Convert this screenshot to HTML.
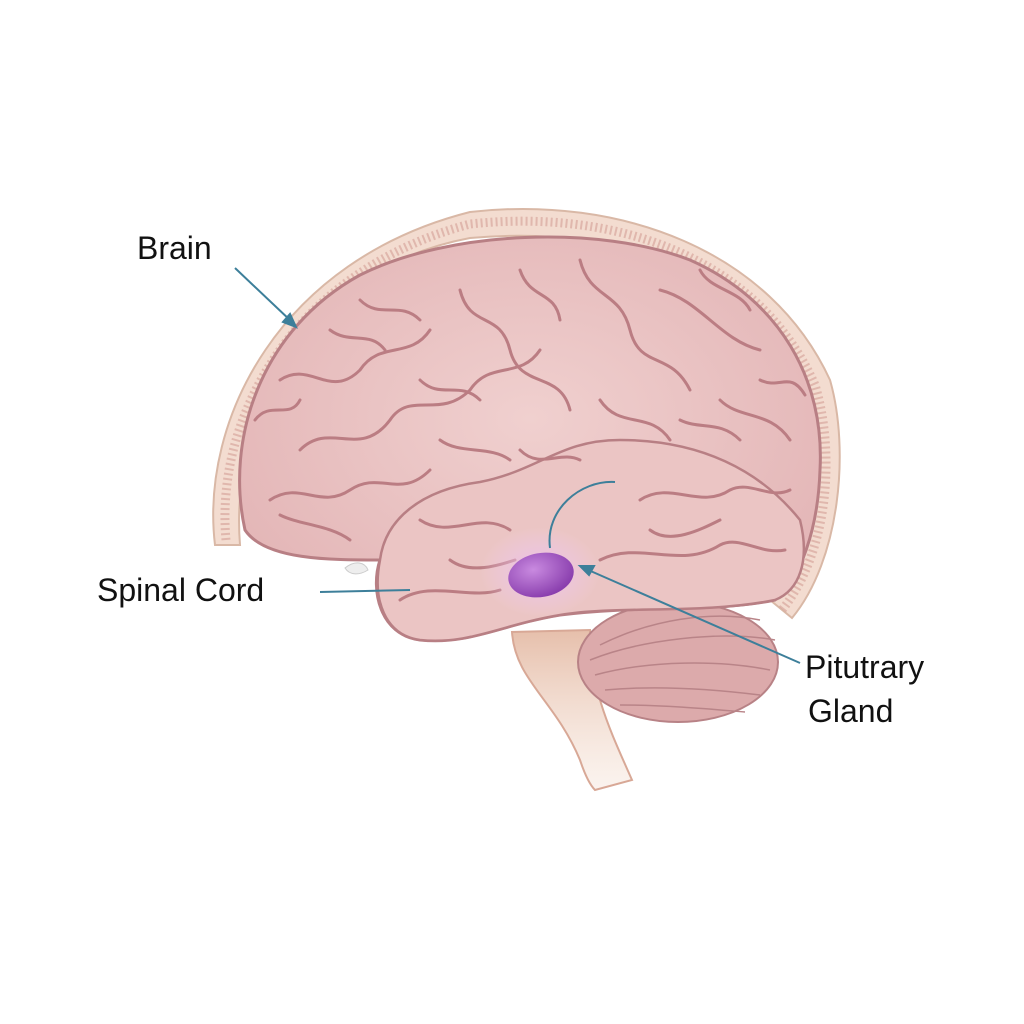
<!DOCTYPE html>
<html><head><meta charset="utf-8"><style>
html,body{margin:0;padding:0;background:#fff;}
svg{display:block;}
text{font-family:"Liberation Sans",sans-serif;fill:#111;}
</style></head><body>
<svg width="1024" height="1024" viewBox="0 0 1024 1024" xmlns="http://www.w3.org/2000/svg">
<defs>
<radialGradient id="br" cx="50%" cy="45%" r="60%">
<stop offset="0" stop-color="#f0d0cf"/><stop offset="1" stop-color="#e3b5b6"/>
</radialGradient>
<radialGradient id="glow" cx="50%" cy="50%" r="50%">
<stop offset="0" stop-color="#e9b6f0" stop-opacity="0.9"/><stop offset="1" stop-color="#f3d3f2" stop-opacity="0"/>
</radialGradient>
<radialGradient id="pit" cx="40%" cy="35%" r="65%">
<stop offset="0" stop-color="#c98ae0"/><stop offset="1" stop-color="#8a3fae"/>
</radialGradient>
<linearGradient id="stem" x1="0" y1="0" x2="0" y2="1">
<stop offset="0" stop-color="#e6bfab"/><stop offset="1" stop-color="#f5e2d6" stop-opacity="0.4"/>
</linearGradient>
</defs>
<rect width="1024" height="1024" fill="#fff"/>
<!-- skull band -->
<path d="M215,545 C200,420 280,260 470,212 C620,195 770,250 830,380 C850,450 840,560 792,618 L770,600 C815,540 822,450 800,390 C745,270 620,225 470,238 C300,270 230,420 240,545 Z" fill="#f3dcd0" stroke="#d9b8a6" stroke-width="2"/>
<path d="M226,540 C215,420 290,272 470,224 C620,208 760,260 815,385 C835,450 830,550 782,610" fill="none" stroke="#d49e96" stroke-width="9" stroke-dasharray="2 3" opacity="0.6"/>
<!-- brainstem -->
<path d="M512,632 C515,680 555,700 580,760 C585,775 590,785 595,790 L632,780 C610,730 590,690 590,630 Z" fill="url(#stem)" stroke="#d8a896" stroke-width="2"/>
<!-- cerebellum -->
<ellipse cx="678" cy="662" rx="100" ry="60" fill="#dcaaab" stroke="#b88286" stroke-width="2"/>
<g stroke="#b98488" stroke-width="1.5" fill="none">
<path d="M590,660 C640,640 720,630 775,640"/><path d="M595,675 C650,660 720,660 770,670"/><path d="M605,690 C660,685 720,690 760,695"/><path d="M620,705 C670,705 720,710 745,712"/><path d="M600,645 C650,620 710,610 760,620"/>
</g>
<!-- cerebrum -->
<path d="M245,530 C225,440 260,330 360,275 C450,230 600,225 690,260 C780,300 825,380 820,470 C818,530 800,580 775,600 C720,612 640,605 560,615 C500,625 470,645 420,640 C380,635 370,590 380,560 C330,560 265,560 245,530 Z" fill="url(#br)" stroke="#b87f84" stroke-width="3"/>
<!-- temporal lobe -->
<path d="M380,560 C385,520 420,490 480,482 C540,470 560,440 620,440 C700,440 760,470 800,520 C810,560 800,590 775,600 C700,615 620,605 560,615 C500,625 470,645 420,640 C385,635 372,600 380,560 Z" fill="#ebc5c4" stroke="#b87f84" stroke-width="2.5"/>
<!-- gyri squiggles -->
<g stroke="#bb7d83" stroke-width="3" fill="none" stroke-linecap="round">
<path d="M280,380 C310,360 330,400 360,370 C380,340 410,360 430,330"/>
<path d="M300,450 C330,420 360,460 390,420 C410,390 440,420 470,390 C490,360 520,380 540,350"/>
<path d="M270,500 C300,480 320,510 350,490 C380,470 400,500 430,470"/>
<path d="M460,290 C470,330 500,310 510,350 C520,390 560,370 570,410"/>
<path d="M580,260 C590,300 620,290 630,330 C640,370 670,350 690,390"/>
<path d="M660,290 C700,300 720,340 760,350"/>
<path d="M720,400 C740,420 770,410 790,440"/>
<path d="M600,400 C620,430 650,410 670,440"/>
<path d="M360,300 C380,320 400,300 420,320"/>
<path d="M420,520 C450,540 480,510 510,530"/>
<path d="M640,500 C670,480 700,510 730,490 C750,480 770,500 790,490"/>
<path d="M600,560 C640,540 680,570 720,545 C740,535 760,555 785,550"/>
<path d="M400,600 C430,580 470,600 500,590"/>
<path d="M520,450 C540,470 560,450 580,460"/>
<path d="M280,515 C300,525 330,525 350,540"/>
<path d="M255,420 C270,400 290,420 300,400"/>
<path d="M330,330 C350,345 370,330 385,350"/>
<path d="M520,270 C530,300 555,290 560,320"/>
<path d="M700,270 C710,290 740,290 750,310"/>
<path d="M760,380 C780,390 790,370 805,395"/>
<path d="M680,420 C700,430 720,420 740,440"/>
<path d="M440,440 C460,455 490,445 510,460"/>
<path d="M420,380 C440,400 460,380 480,400"/>
<path d="M650,530 C670,545 700,530 720,520"/>
<path d="M450,560 C470,575 500,565 515,560"/>
</g>
<!-- pituitary -->
<ellipse cx="540" cy="572" rx="60" ry="45" fill="url(#glow)"/>
<ellipse cx="541" cy="575" rx="33" ry="22" fill="url(#pit)" transform="rotate(-10 541 575)"/>
<path d="M550,548 C545,510 580,480 615,482" fill="none" stroke="#3d7f9a" stroke-width="2"/>
<!-- leader lines -->
<g stroke="#3d7f9a" stroke-width="2" fill="#3d7f9a">
<line x1="235" y1="268" x2="292" y2="322"/>
<polygon points="296,327 283,322 290,314"/>
<line x1="320" y1="592" x2="410" y2="590"/>
<line x1="800" y1="663" x2="586" y2="569"/>
<polygon points="580,566 594,566 589,575"/>
</g>
<path d="M345,568 C355,560 365,562 368,570 C360,575 350,576 345,568 Z" fill="#eee" stroke="#ccc"/>
<text x="137" y="259" font-size="32">Brain</text>
<text x="97" y="601" font-size="32">Spinal Cord</text>
<text x="805" y="678" font-size="32">Pitutrary</text>
<text x="808" y="722" font-size="32">Gland</text>
</svg>
</body></html>
